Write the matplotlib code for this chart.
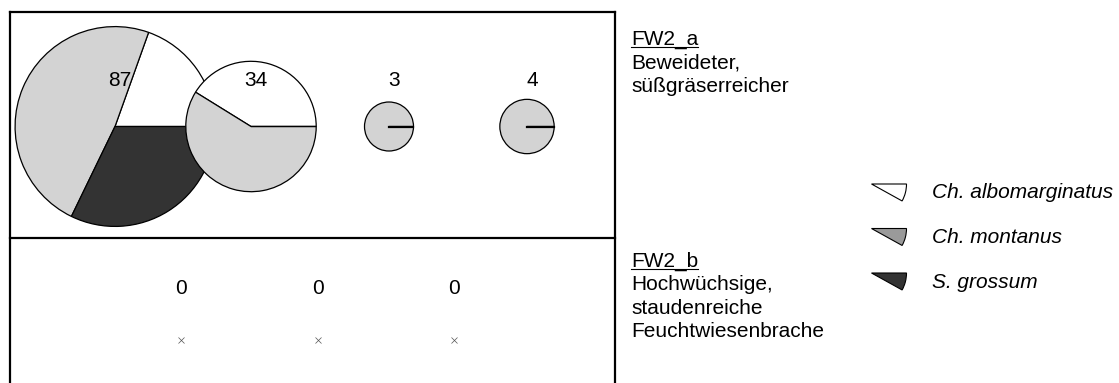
import matplotlib
matplotlib.use("Agg")
import numpy as np
import matplotlib.pyplot as plt
from matplotlib.patches import Wedge

# counts of animals per sample point (FW2_a)
totals_a = [87, 34, 3, 4]
albomarginatus = [17, 14, 0, 0]
montanus = [42, 20, 3, 4]
grossum = [28, 0, 0, 0]

# FW2_b: nothing found
totals_b = [0, 0, 0]

species = ["Ch. albomarginatus", "Ch. montanus", "S. grossum"]
site_a = ["FW2_a", "Beweideter,", "süßgräserreicher"]
site_b = ["FW2_b", "Hochwüchsige,", "staudenreiche", "Feuchtwiesenbrache"]

pie_colors = ["#ffffff", "#d3d3d3", "#333333"]
legend_colors = ["#ffffff", "#9a9a9a", "#333333"]

W, H = 1119, 383
plt.rcParams["font.family"] = ["Liberation Sans", "DejaVu Sans"]

fig = plt.figure(figsize=(W / 100, H / 100), dpi=100)
ax = fig.add_axes([0, 0, 1, 1])


def Y(y):  # pixel-from-top -> data y
    return H - y


# pies, size grows with sqrt of the count
pie_x = [115, 251, 389, 527]
pie_y = 126.5
for i, n in enumerate(totals_a):
    r = 7.3 + 9.93 * np.sqrt(n)
    vals = [albomarginatus[i], montanus[i], grossum[i]]
    ax.pie(vals, colors=pie_colors, center=(pie_x[i], Y(pie_y)), radius=r,
           startangle=0, counterclock=True, normalize=True,
           wedgeprops=dict(edgecolor="black", linewidth=0.9))
    if max(vals) == n:  # single species -> the seam shows as a heavy line
        ax.plot([pie_x[i], pie_x[i] + r], [Y(pie_y), Y(pie_y)], color="black", lw=1.6)
    ax.text(pie_x[i] + 5, Y(80), str(n), ha="center", va="center", fontsize=15)

# FW2_b: zero counts, just a cross
b_x = [181, 318, 454]
for i, n in enumerate(totals_b):
    ax.text(b_x[i], Y(288), str(n), ha="center", va="center", fontsize=15)
    ax.plot(b_x[i], Y(340), marker="x", ms=5, mew=0.5, color="#555555")

# frame: top box plus open bottom panel
lw = 1.6
ax.plot([9.5, 614.5], [Y(12), Y(12)], color="black", lw=lw, solid_capstyle="projecting")
ax.plot([9.5, 614.5], [Y(238), Y(238)], color="black", lw=lw)
ax.plot([9.5, 9.5], [Y(12), Y(H + 5)], color="black", lw=lw)
ax.plot([614.5, 614.5], [Y(12), Y(H + 5)], color="black", lw=lw)

# site descriptions
heads = []
for lines, y0 in [(site_a, 45), (site_b, 266.5)]:
    for j, s in enumerate(lines):
        t = ax.text(631, Y(y0 + j * 23.5), s, ha="left", va="baseline", fontsize=15)
        if j == 0:
            heads.append((t, y0))

# legend with little wedges
for k, name in enumerate(species):
    yk = 184 + k * 44.5
    ax.add_patch(Wedge((871.5, Y(yk)), 35, -29, 0, facecolor=legend_colors[k],
                       edgecolor="black", lw=0.8))
    ax.text(932, Y(yk + 9), name, ha="left", va="center", fontsize=15, style="italic")

ax.set_xlim(0, W)
ax.set_ylim(0, H)
ax.set_axis_off()

# underline the site codes
fig.canvas.draw()
for t, y0 in heads:
    bb = t.get_window_extent()
    ax.plot([bb.x0, bb.x1], [Y(y0 + 2), Y(y0 + 2)], color="black", lw=0.8)

fig.savefig("out.png", dpi=100)
